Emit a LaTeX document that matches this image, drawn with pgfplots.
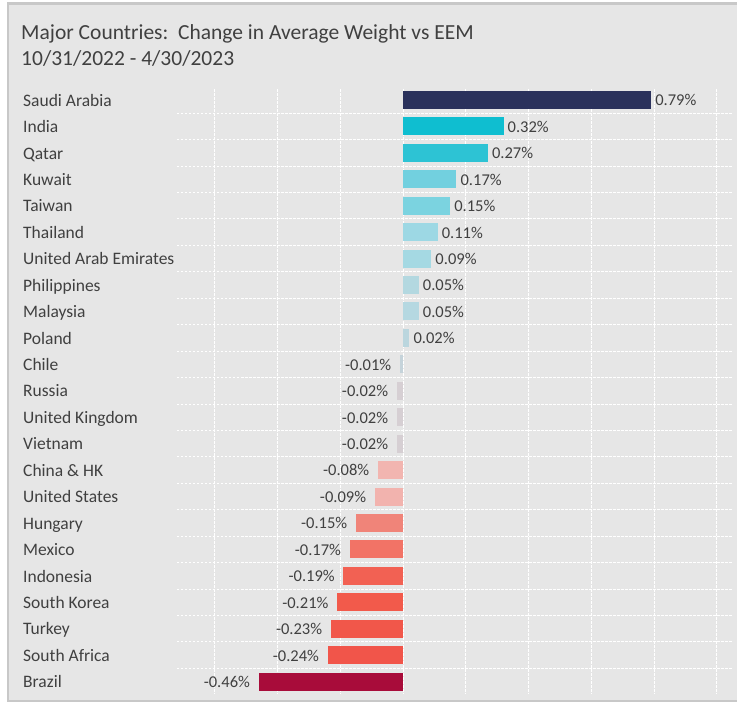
\documentclass[border=0pt]{standalone}
\usepackage{fontspec}
\setmainfont{Carlito}
\usepackage{pgfplots}
\pgfplotsset{compat=1.18}
\definecolor{bg}{HTML}{E6E6E6}
\definecolor{framec}{HTML}{C8C8C8}
\definecolor{txt}{HTML}{404040}
\definecolor{c0}{HTML}{2B325C}
\definecolor{c1}{HTML}{0FBED0}
\definecolor{c2}{HTML}{2DC3D4}
\definecolor{c3}{HTML}{72D0DF}
\definecolor{c4}{HTML}{7BD3E0}
\definecolor{c5}{HTML}{9DD8E4}
\definecolor{c6}{HTML}{A5D9E3}
\definecolor{c7}{HTML}{B3D8E0}
\definecolor{c8}{HTML}{B5D8E1}
\definecolor{c9}{HTML}{BBD6DE}
\definecolor{c10}{HTML}{C5D3DA}
\definecolor{c11}{HTML}{D6CFD3}
\definecolor{c14}{HTML}{F2B5B0}
\definecolor{c15}{HTML}{F2B3AE}
\definecolor{c16}{HTML}{F08479}
\definecolor{c17}{HTML}{F27366}
\definecolor{c18}{HTML}{F26153}
\definecolor{c19}{HTML}{F25A4B}
\definecolor{c20}{HTML}{F1574A}
\definecolor{c21}{HTML}{F1554A}
\definecolor{c22}{HTML}{A80C3A}
\begin{document}
\begin{tikzpicture}[x=1pt,y=1pt]
\useasboundingbox (0,0) rectangle (737,708);
\clip (0,0) rectangle (737,708);
\fill[white] (0,0) rectangle (737,708);
\draw[framec, line width=2.5pt, fill=bg] (8,7) rectangle (745,704.5);
\node[anchor=base west, inner sep=0pt, text=txt, font=\fontsize{21.5}{25}\selectfont] at (21,668.5) {Major Countries:\ \ Change in Average Weight vs EEM};
\node[anchor=base west, inner sep=0pt, text=txt, font=\fontsize{21.5}{25}\selectfont] at (21,642) {10/31/2022 - 4/30/2023};
\begin{axis}[
  at={(177pt,14pt)}, anchor=south west, scale only axis,
  width=556pt, height=604.7pt,
  xbar, bar shift=0pt, bar width=18pt,
  xmin=-0.72, xmax=1.051, ymin=-0.405, ymax=22.47, y dir=reverse,
  xtick={-0.6,-0.4,-0.2,0,0.2,0.4,0.6,0.8,1.0}, xticklabels={},
  ytick={0,1,2,3,4,5,6,7,8,9,10,11,12,13,14,15,16,17,18,19,20,21,22},
  yticklabels={Saudi Arabia,India,Qatar,Kuwait,Taiwan,Thailand,United Arab Emirates,Philippines,Malaysia,Poland,Chile,Russia,United Kingdom,Vietnam,China \& HK,United States,Hungary,Mexico,Indonesia,South Korea,Turkey,South Africa,Brazil},
  minor ytick={0.5,1.5,2.5,3.5,4.5,5.5,6.5,7.5,8.5,9.5,10.5,11.5,12.5,13.5,14.5,15.5,16.5,17.5,18.5,19.5,20.5,21.5},
  xmajorgrids, yminorgrids, ymajorgrids=false,
  major grid style={white, line width=1pt, dash pattern=on 2.5pt off 1.5pt},
  minor grid style={white, line width=1pt, dash pattern=on 2.5pt off 1.5pt},
  axis line style={draw=none}, tick style={draw=none},
  major tick length=0pt, minor tick length=0pt,
  yticklabel style={anchor=base west, inner sep=0pt, xshift=-154pt, yshift=-6.2pt, text=txt, font=\fontsize{17.5}{20}\selectfont},
  point meta=x,
  nodes near coords={\pgfmathprintnumber[fixed, fixed zerofill, precision=2, assume math mode=true]{\pgfplotspointmeta}\%},
  nodes near coords style={text=txt, font=\fontsize{16.5}{19}\selectfont, yshift=-5.9pt},
  pos/.style={nodes near coords style={anchor=base west, inner xsep=4pt, inner ysep=0pt}},
  neg/.style={nodes near coords style={anchor=base east, inner xsep=8.5pt, inner ysep=0pt}},
]
\addplot[fill=c0, draw=none, pos] coordinates {(0.79,0)};
\addplot[fill=c1, draw=none, pos] coordinates {(0.32,1)};
\addplot[fill=c2, draw=none, pos] coordinates {(0.27,2)};
\addplot[fill=c3, draw=none, pos] coordinates {(0.17,3)};
\addplot[fill=c4, draw=none, pos] coordinates {(0.15,4)};
\addplot[fill=c5, draw=none, pos] coordinates {(0.11,5)};
\addplot[fill=c6, draw=none, pos] coordinates {(0.09,6)};
\addplot[fill=c7, draw=none, pos] coordinates {(0.05,7)};
\addplot[fill=c8, draw=none, pos] coordinates {(0.05,8)};
\addplot[fill=c9, draw=none, pos] coordinates {(0.02,9)};
\addplot[fill=c10, draw=none, neg] coordinates {(-0.01,10)};
\addplot[fill=c11, draw=none, neg] coordinates {(-0.02,11)};
\addplot[fill=c11, draw=none, neg] coordinates {(-0.02,12)};
\addplot[fill=c11, draw=none, neg] coordinates {(-0.02,13)};
\addplot[fill=c14, draw=none, neg] coordinates {(-0.08,14)};
\addplot[fill=c15, draw=none, neg] coordinates {(-0.09,15)};
\addplot[fill=c16, draw=none, neg] coordinates {(-0.15,16)};
\addplot[fill=c17, draw=none, neg] coordinates {(-0.17,17)};
\addplot[fill=c18, draw=none, neg] coordinates {(-0.19,18)};
\addplot[fill=c19, draw=none, neg] coordinates {(-0.21,19)};
\addplot[fill=c20, draw=none, neg] coordinates {(-0.23,20)};
\addplot[fill=c21, draw=none, neg] coordinates {(-0.24,21)};
\addplot[fill=c22, draw=none, neg] coordinates {(-0.46,22)};
\end{axis}
\end{tikzpicture}
\end{document}
